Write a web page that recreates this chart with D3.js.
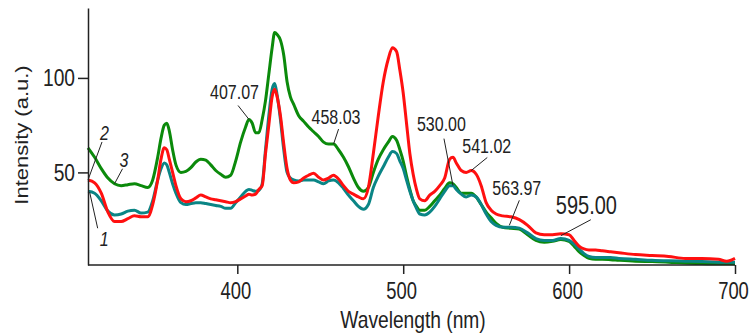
<!DOCTYPE html>
<html>
<head>
<meta charset="utf-8">
<script src="https://cdn.jsdelivr.net/npm/d3@7"></script>
<style>
  body { margin: 0; background: #fff; }
  svg text { font-family: "Liberation Sans", Arial, sans-serif; fill: #222; }
  .axis path, .axis line { stroke: #222; stroke-width: 1.5; }
  .leader { stroke: #222; stroke-width: 1; }
</style>
</head>
<body>
<div id="chart"></div>
<script>
// wavelength grid (nm) shared by the three spectra
const wavelength = [310, 314, 318, 322, 326, 330, 334, 338, 342, 346, 349, 352, 354, 356, 357.5, 359, 361, 363, 366, 369,
  372, 375, 378, 381, 384, 387, 390, 393, 396, 399, 402, 405, 407, 409, 411, 413, 415, 417, 419, 421,
  422.5, 424, 426, 428, 430, 432, 434, 437, 440, 443, 446, 449, 452, 455, 458, 461, 464, 467, 470, 473,
  476, 479, 482, 485, 488, 491, 493.5, 496, 498, 500, 502, 504, 506, 508, 510, 513, 516, 519, 522, 525,
  528, 530, 532, 535, 538, 541, 544, 547, 550, 553, 556, 560, 565, 570, 575, 580, 585, 590, 595, 600,
  603, 606, 609, 612, 616, 620, 625, 630, 640, 650, 660, 670, 680, 690, 695, 700];

// curve 1 (teal)
const curve1 = [40, 39, 35, 29.5, 27.5, 28, 29.5, 30, 28.5, 29, 35, 46, 52, 55, 54, 50, 44, 39, 34, 33,
  33.5, 34, 34, 33.5, 33, 32.5, 32, 31, 31, 34, 37, 40, 41, 40.5, 40, 40.5, 44, 62, 80, 94,
  97, 91, 78, 62, 50, 47, 46, 45.5, 46, 46, 46, 45, 44, 45.5, 46, 44.5, 41.5, 38, 35, 32,
  30.5, 33, 42, 48, 53, 58, 61, 60, 56, 52, 46, 40, 35, 31, 28, 27.5, 29, 32, 36, 40,
  43, 43, 41, 38.5, 37, 38, 37, 33, 28, 24, 22, 21, 21, 20.5, 18, 15, 14, 14, 15, 14,
  12, 9.5, 7, 5.5, 5, 5, 5, 4.5, 4, 3.5, 3.2, 3, 2.8, 2.5, 2.5, 2.4];

// curve 2 (red)
const curve2 = [46, 44.5, 39, 29, 24, 24, 25.5, 27, 26.5, 26.5, 33, 46, 57, 63, 62, 57, 50, 43, 36, 34.5,
  35, 36.5, 38, 37, 36, 35.5, 35, 34.5, 34, 34.5, 36, 37.5, 38.5, 38, 38.5, 41, 43, 60, 75, 90,
  94, 90, 80, 65, 52, 46, 44.5, 45, 47, 48.5, 49.5, 47.5, 46, 47, 48.5, 46.5, 43, 40, 38.5, 37,
  36, 42, 60, 80, 98, 110, 116, 114, 104, 92, 76, 60, 49, 41, 36, 35, 38, 40, 43, 47,
  57, 58, 55, 51, 50, 51, 49, 43, 34, 30, 28, 27, 26.5, 25, 22, 18, 17, 17, 17.5, 17,
  14, 11, 9.5, 9, 9, 8.5, 8, 7.5, 6.5, 6, 5.5, 4.5, 4.5, 4, 3, 4.5];

// curve 3 (green)
const curve3 = [63, 58, 52, 47, 44, 43, 43.5, 44, 43, 42, 46, 58, 68, 75, 76, 72, 62, 54, 50, 50.5,
  52.5, 55.5, 57, 56.5, 54, 51, 49, 47.5, 48.5, 56, 66, 74, 78, 76, 71, 71, 78, 88, 102, 116,
  124, 123, 120, 112, 98, 90, 86, 80, 77, 74, 71.5, 69, 66, 65, 65, 62, 58, 53, 47, 42,
  40, 42, 50, 57, 62, 66, 69, 67, 62, 56, 48, 41, 35, 32, 30, 30, 32, 35, 38, 41.5,
  44.5, 44, 42, 39, 39, 39, 37, 33, 29, 26, 23, 21, 20.5, 20, 17, 14, 13, 13.5, 14.5, 13.5,
  11, 8, 6, 4.5, 4, 4, 3.8, 3.5, 3, 2.8, 2.5, 2, 1.8, 1.6, 1.6, 1.6];

const xTicks = [400, 500, 600, 700];
const yTicks = [50, 100];

// peak annotations: label text, wavelength, intensity where the leader touches the curve
const peakNames = ["407.07", "458.03", "530.00", "541.02", "563.97", "595.00"];
const peakWavelength = [407.07, 458.03, 530.00, 541.02, 563.97, 595.00];
const peakIntensity = [78, 65, 43, 51, 22, 16.5];

// curve numbers and the point each one points at
const curveNames = ["1", "2", "3"];
const curveWavelength = [311, 310, 326];
const curveIntensity = [39.5, 46, 44];

class SpectrumChart {
    constructor(selector) {
        this.svg = d3.select(selector).append("svg")
            .attr("width", SpectrumChart.WIDTH)
            .attr("height", SpectrumChart.HEIGHT);
        this.x = d3.scaleLinear().domain([310, 700]).range([88, 735]);
        this.y = d3.scaleLinear().domain([1, 137]).range([265, 8]);
    }

    // text in the reference is horizontally squeezed
    squeeze(sel, tx, ty) {
        sel.attr("transform", `translate(${tx},${ty}) scale(${SpectrumChart.SQUEEZE},1)`);
    }

    drawAxes() {
        const yAxis = this.svg.append("g")
            .attr("class", "axis")
            .attr("transform", `translate(${this.x.range()[0]},0)`)
            .call(d3.axisLeft(this.y).tickValues(yTicks).tickSize(10).tickSizeOuter(0));
        yAxis.selectAll("text")
            .attr("x", null).attr("dy", "0.32em")
            .style("font-size", "24px")
            .attr("transform", `translate(-13,0) scale(${SpectrumChart.SQUEEZE},1)`);

        const xAxis = this.svg.append("g")
            .attr("class", "axis")
            .attr("transform", `translate(0,${this.y.range()[0]})`)
            .call(d3.axisBottom(this.x).tickValues(xTicks).tickSize(9).tickSizeOuter(0));
        xAxis.selectAll("text")
            .attr("y", null).attr("dy", null)
            .style("font-size", "23px")
            .attr("transform", `translate(-2,34) scale(${SpectrumChart.SQUEEZE},1)`);
        xAxis.select(".domain").attr("d", `M${this.x.range()[0]},0H${this.x.range()[1]}`);

        this.svg.append("text")
            .attr("text-anchor", "middle")
            .style("font-size", "24px")
            .text("Wavelength (nm)")
            .call(this.squeeze, 413, 328);

        this.svg.append("text")
            .attr("text-anchor", "middle")
            .style("font-size", "22px")
            .attr("transform", `translate(28,135) rotate(-90) scale(1,${SpectrumChart.SQUEEZE})`)
            .text("Intensity (a.u.)");
    }

    drawCurves() {
        const line = d3.line()
            .x(d => this.x(d[0]))
            .y(d => this.y(d[1]))
            .curve(d3.curveMonotoneX);
        // green first, red on top
        const series = [[curve3, "#0b8a0b"], [curve1, "#0a8585"], [curve2, "#ff1010"]];
        series.forEach(([values, color]) => {
            this.svg.append("path")
                .datum(d3.zip(wavelength, values))
                .attr("fill", "none")
                .attr("stroke", color)
                .attr("stroke-width", 3)
                .attr("stroke-linejoin", "round")
                .attr("d", line);
        });
    }

    drawAnnotations() {
        const that = this;
        const g = this.svg.append("g");
        peakNames.forEach((name, i) => {
            const px = that.x(peakWavelength[i]);
            const py = that.y(peakIntensity[i]);
            const [lx, ly, tx, ty] = SpectrumChart.PEAK_OFFSETS[i];
            g.append("line").attr("class", "leader")
                .attr("x1", px + lx).attr("y1", py + ly)
                .attr("x2", px).attr("y2", py);
            g.append("text")
                .style("font-size", name === "595.00" ? "25px" : "20px")
                .text(name)
                .call(that.squeeze, px + tx, py + ty);
        });

        curveNames.forEach((name, i) => {
            const px = that.x(curveWavelength[i]);
            const py = that.y(curveIntensity[i]);
            const [lx, ly, tx, ty] = SpectrumChart.CURVE_OFFSETS[i];
            g.append("line").attr("class", "leader")
                .attr("x1", px + lx).attr("y1", py + ly)
                .attr("x2", px).attr("y2", py);
            g.append("text")
                .style("font-size", "20px")
                .style("font-style", "italic")
                .text(name)
                .call(that.squeeze, px + tx, py + ty);
        });
    }

    draw() {
        this.drawCurves();
        this.drawAxes();
        this.drawAnnotations();
    }
}
SpectrumChart.WIDTH = 749;
SpectrumChart.HEIGHT = 336;
SpectrumChart.SQUEEZE = 0.8;
// [leader start dx, dy, text dx, dy] relative to the point on the curve
SpectrumChart.PEAK_OFFSETS = [
    [-11, -14, -39, -20],
    [5, -15, -22, -20],
    [-9, -47, -36, -55],
    [16, -13, -9, -18],
    [10, -25, -17, -30],
    [30, -16, -5, -22]
];
SpectrumChart.CURVE_OFFSETS = [
    [8, 36, 10, 54],
    [14, -38, 12, -40],
    [8, -15, 5, -17]
];

new SpectrumChart("#chart").draw();
</script>
</body>
</html>
